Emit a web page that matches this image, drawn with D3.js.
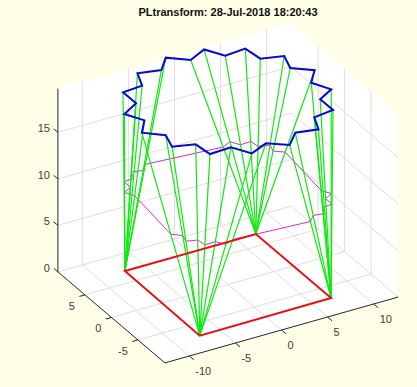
<!DOCTYPE html>
<html>
<head>
<meta charset="utf-8">
<script src="https://cdn.jsdelivr.net/npm/d3@7"></script>
<style>
    html, body { margin: 0; padding: 0; background: #fffee6; }
    svg { display: block; }
    text { font-family: "Liberation Sans", Arial, sans-serif; }
</style>
</head>
<body>
<div id="chart"></div>
<script>
const titleText = 'PLtransform: 28-Jul-2018 18:20:43';

const xTicks = [-10, -5, 0, 5, 10];
const yTicks = [-5, 0, 5];
const zTicks = [0, 5, 10, 15];

const xLim = [-12.65, 12.65];
const yLim = [-10.1, 10.1];
const zLim = [0, 19.7];

// base square, corner order A B C D
const baseX = [-7.1, -7.2, 7.1, 7.1];
const baseY = [7.1, -7.2, -7.1, 7.1];

// top ring (blue), 32 vertices
const ringX = [-7.69, -7.68, -9.66, -8.63, -10.03, -8.33, -8.91, -6.75,
    -6.52, -4.17, -3.04, -0.94, 0.83, 2.47, 4.69, 5.49,
    7.72, 7.70, 9.56, 8.56, 10.03, 8.26, 8.92, 6.72,
    6.45, 4.15, 3.02, 0.92, -0.89, -2.43, -4.69, -5.5];
const ringY = [6.44, 3.99, 2.75, 0.76, -1.18, -2.74, -4.94, -5.65,
    -7.94, -7.81, -9.80, -8.79, -10.19, -8.40, -8.93, -6.73,
    -6.39, -4.01, -2.86, -0.82, 1.10, 2.62, 4.91, 5.59,
    7.96, 7.74, 9.77, 8.64, 10.20, 8.35, 8.93, 6.64];
const ringZ = 19.7;

// which base corner each ring vertex is tied to
const legBase = [0, 0, 0, 0, 1, 1, 1, 1,
    1, 1, 1, 1, 2, 2, 2, 2,
    2, 2, 2, 2, 3, 3, 3, 3,
    3, 3, 3, 3, 0, 0, 0, 0];

// middle ring (magenta)
const midX = [-7.4, -7.39, -8.38, -7.87, -8.62, -7.77, -8.06, -6.98,
    -6.86, -5.69, -5.12, -4.07, 3.97, 4.79, 5.9, 6.3,
    7.41, 7.4, 8.33, 7.83, 8.57, 7.68, 8.01, 6.91,
    6.78, 5.63, 5.06, 4.01, -4.0, -4.77, -5.9, -6.3];
const midY = [6.77, 5.55, 4.93, 3.93, -4.19, -4.97, -6.07, -6.43,
    -7.57, -7.51, -8.5, -8.0, -8.65, -7.75, -8.02, -6.92,
    -6.75, -5.56, -4.98, -3.96, 4.1, 4.86, 6.0, 6.35,
    7.53, 7.42, 8.44, 7.87, 8.65, 7.73, 8.02, 6.87];
const midZ = 9.85;

const width = 417, height = 387;
const cx = 228, cy = 284.5;

// oblique view: each data axis adds a horizontal and a vertical screen offset
const xPx = d3.scaleLinear().domain(xLim).range([-116.6, 116.6]);
const xPy = d3.scaleLinear().domain(xLim).range([32.9, -32.9]);
const yPx = d3.scaleLinear().domain(yLim).range([53.5, -53.5]);
const yPy = d3.scaleLinear().domain(yLim).range([45.5, -45.5]);
const zPy = d3.scaleLinear().domain(zLim).range([0, -183.2]);

const project = (x, y, z) => [cx + xPx(x) + yPx(y), cy + xPy(x) + yPy(y) + zPy(z)];
const line3 = d3.line().x(d => project(...d)[0]).y(d => project(...d)[1]);

const svg = d3.select('#chart').append('svg')
    .attr('width', width)
    .attr('height', height);

const [x0, x1] = xLim, [y0, y1] = yLim, [z0, z1] = zLim;

// white box: floor and the two back walls
svg.append('path')
    .attr('d', line3([[x0, y0, z0], [x1, y0, z0], [x1, y0, z1], [x1, y1, z1], [x0, y1, z1], [x0, y1, z0]]) + 'Z')
    .attr('fill', '#fff');

const grid = svg.append('g').attr('fill', 'none').attr('stroke', '#dedede').attr('stroke-width', 1);
const addGrid = pts => grid.append('path').attr('d', line3(pts));

xTicks.forEach(t => {
    addGrid([[t, y0, z0], [t, y1, z0], [t, y1, z1]]);
});
yTicks.forEach(t => {
    addGrid([[x0, t, z0], [x1, t, z0], [x1, t, z1]]);
});
zTicks.forEach(t => {
    addGrid([[x0, y1, t], [x1, y1, t], [x1, y0, t]]);
});

// axis lines
const axes = svg.append('g').attr('fill', 'none').attr('stroke', '#262626').attr('stroke-width', 1);
axes.append('path').attr('d', line3([[x0, y1, z1], [x0, y1, z0], [x0, y0, z0], [x1, y0, z0]]));

const labels = svg.append('g').attr('fill', '#404040').style('font-size', '11px');

xTicks.forEach(t => {
    const p = project(t, y0, z0);
    axes.append('path').attr('d', line3([[t, y0, z0], [t, y0 - 0.85, z0]]));
    labels.append('text').attr('x', p[0] + 6).attr('y', p[1] + 19).text(t);
});
yTicks.forEach(t => {
    const p = project(x0, t, z0);
    axes.append('path').attr('d', line3([[x0, t, z0], [x0 - 0.6, t, z0]]));
    labels.append('text').attr('x', p[0] - 10).attr('y', p[1] + 15).attr('text-anchor', 'end').text(t);
});
zTicks.forEach(t => {
    const p = project(x0, y1, t);
    axes.append('path').attr('d', line3([[x0, y1, t], [x0, y1 + 0.8, t]]));
    labels.append('text').attr('x', p[0] - 8).attr('y', p[1]).attr('text-anchor', 'end').text(t);
});

// middle ring
svg.append('path')
    .attr('d', line3(midX.map((x, i) => [x, midY[i], midZ])) + 'Z')
    .attr('fill', 'none')
    .attr('stroke', '#d828d8')
    .attr('stroke-width', 1);

// legs
svg.append('g').selectAll('path')
    .data(ringX.map((x, i) => i))
    .enter()
    .append('path')
    .attr('d', i => line3([[baseX[legBase[i]], baseY[legBase[i]], 0], [ringX[i], ringY[i], ringZ]]))
    .attr('fill', 'none')
    .attr('stroke', '#10e810')
    .attr('stroke-width', 1.2);

// base square
svg.append('path')
    .attr('d', line3(baseX.map((x, i) => [x, baseY[i], 0])) + 'Z')
    .attr('fill', 'none')
    .attr('stroke', '#e81010')
    .attr('stroke-width', 2);

// top ring
svg.append('path')
    .attr('d', line3(ringX.map((x, i) => [x, ringY[i], ringZ])) + 'Z')
    .attr('fill', 'none')
    .attr('stroke', '#0808d0')
    .attr('stroke-width', 2);

svg.append('text')
    .attr('x', 228)
    .attr('y', 16)
    .attr('text-anchor', 'middle')
    .attr('fill', '#111')
    .style('font-size', '11px')
    .style('font-weight', 'bold')
    .text(titleText);
</script>
</body>
</html>
